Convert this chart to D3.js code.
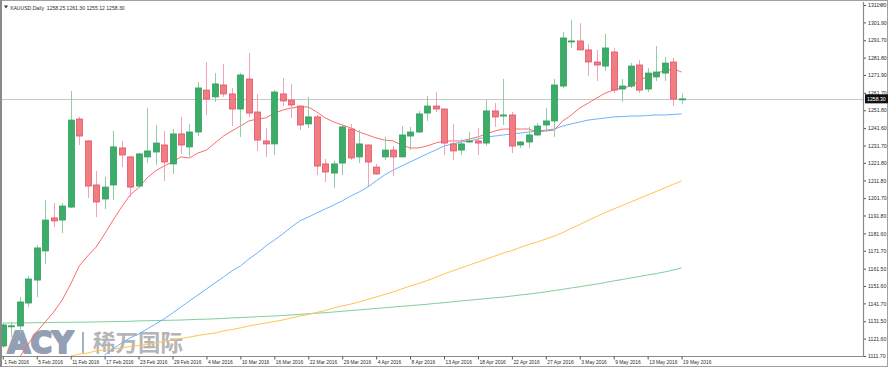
<!DOCTYPE html>
<html><head><meta charset="utf-8">
<script src="https://cdn.jsdelivr.net/npm/d3@7"></script>
<style>html,body{margin:0;padding:0;background:#fff;overflow:hidden}svg{display:block}</style>
</head><body>
<script>
// ---- data ----
const symbolTitle = "XAUUSD,Daily";
const lastOHLC = ["1258.25", "1261.30", "1255.12", "1258.30"];
const bidPrice = 1258.30;

const opens  = [1117.4,1128.8,1128.8,1141.9,1155.0,1171.6,1190.4,1189.2,1196.6,1246.8,1234.3,1209.2,1201.2,1209.2,1230.3,1225.2,1208.6,1225.2,1228.0,1232.0,1221.2,1238.3,1230.9,1239.4,1263.3,1259.4,1266.2,1261.1,1252.5,1269.6,1250.8,1234.3,1232.6,1261.1,1257.6,1254.2,1244.0,1248.0,1221.2,1216.0,1221.7,1241.1,1225.2,1232.0,1219.4,1225.2,1229.1,1225.2,1237.1,1239.4,1250.2,1254.2,1252.5,1232.6,1229.1,1233.7,1234.3,1233.1,1251.4,1248.5,1249.1,1232.0,1233.7,1237.7,1243.4,1245.7,1265.6,1291.0,1291.3,1286.2,1279.3,1277.0,1285.0,1263.9,1265.6,1277.6,1263.9,1270.8,1273.0,1279.3,1258.25];
const highs  = [1130.5,1131.1,1145.3,1157.3,1175.0,1200.6,1198.9,1198.9,1262.8,1248.0,1234.8,1217.2,1213.7,1240.0,1234.3,1225.6,1227.4,1253.1,1243.4,1240.0,1241.1,1248.0,1244.0,1267.9,1279.3,1273.0,1278.2,1264.5,1273.0,1284.4,1261.1,1241.7,1263.3,1270.2,1266.8,1254.5,1259.4,1249.1,1224.0,1222.9,1243.4,1244.0,1240.5,1232.3,1221.2,1236.6,1231.4,1242.8,1242.3,1251.4,1259.9,1262.2,1252.8,1244.0,1235.4,1239.4,1241.7,1257.6,1255.9,1269.6,1250.8,1234.3,1242.3,1244.5,1253.1,1269.6,1296.4,1303.2,1301.5,1289.6,1286.2,1295.3,1287.3,1269.6,1278.7,1280.4,1275.9,1288.4,1282.2,1281.6,1261.30];
const lows   = [1116.3,1122.5,1124.8,1139.6,1145.3,1164.2,1185.2,1181.8,1196.1,1232.0,1201.8,1190.9,1195.5,1200.6,1219.4,1202.3,1207.5,1221.7,1220.6,1211.5,1215.5,1226.9,1225.2,1237.1,1249.1,1256.5,1259.4,1242.8,1236.6,1248.0,1228.6,1225.2,1226.3,1254.2,1247.4,1240.5,1241.7,1214.9,1210.9,1207.5,1214.9,1223.4,1221.7,1208.6,1214.9,1223.4,1214.3,1225.0,1229.1,1238.8,1245.7,1250.8,1226.3,1223.4,1226.3,1233.1,1226.3,1231.4,1242.3,1243.4,1227.4,1230.3,1230.3,1237.1,1239.5,1236.6,1264.5,1287.3,1286.0,1271.3,1268.5,1274.2,1261.6,1256.5,1264.5,1261.6,1262.2,1268.5,1268.5,1254.2,1255.12];
const closes = [1129.4,1128.9,1142.5,1155.6,1173.3,1189.2,1188.7,1197.2,1246.2,1237.1,1208.6,1199.5,1208.0,1230.9,1226.3,1208.0,1226.9,1228.6,1233.1,1222.3,1238.3,1232.0,1239.4,1264.5,1258.2,1266.8,1261.1,1252.5,1271.9,1250.2,1234.8,1232.6,1262.2,1257.1,1254.8,1243.4,1248.0,1220.0,1216.6,1221.2,1242.3,1224.6,1232.6,1222.3,1215.5,1229.1,1225.2,1237.7,1239.4,1249.7,1254.2,1252.5,1233.1,1228.6,1232.6,1234.3,1233.1,1251.4,1248.0,1249.1,1231.4,1233.7,1237.7,1242.8,1245.7,1266.2,1293.0,1291.3,1286.2,1279.3,1277.6,1287.3,1263.3,1265.6,1277.0,1263.3,1273.0,1273.6,1278.7,1258.2,1258.30];

// moving averages (null = not drawn / off-chart)
const maFast = [null,null,1111.1,1118.5,1125.4,1131.1,1136.8,1143.6,1152.7,1163.0,1168.7,1173.8,1181.3,1189.2,1196.6,1203.5,1207.5,1213.2,1217.2,1220.0,1222.3,1225.2,1224.6,1227.4,1229.1,1233.1,1237.1,1240.0,1242.8,1245.7,1246.8,1247.4,1250.2,1251.9,1253.1,1253.7,1253.7,1250.8,1247.4,1245.1,1243.4,1241.7,1239.4,1237.7,1236.0,1234.8,1234.3,1232.0,1230.3,1230.3,1231.4,1233.1,1234.3,1234.3,1234.3,1235.4,1236.6,1238.3,1240.0,1241.1,1241.1,1241.1,1241.1,1239.4,1240.0,1240.5,1245.7,1249.1,1253.1,1255.9,1258.8,1261.6,1263.3,1264.5,1265.6,1268.5,1271.3,1273.0,1274.2,1275.3,1273.6];
const maMid = [null,null,null,null,null,null,null,null,null,null,null,null,1112.3,1115.7,1119.1,1122.0,1124.2,1127.1,1129.9,1132.8,1136.2,1139.6,1143.1,1146.5,1149.9,1153.3,1156.7,1160.2,1163.0,1167.0,1170.4,1174.4,1177.8,1181.3,1185.2,1188.7,1190.9,1193.2,1195.5,1197.8,1200.1,1202.9,1205.2,1208.0,1211.5,1214.9,1217.7,1220.0,1222.3,1224.6,1226.9,1229.1,1231.4,1232.6,1233.7,1234.3,1235.4,1236.6,1237.1,1237.7,1238.3,1238.8,1239.4,1240.0,1240.5,1241.1,1242.8,1244.0,1245.1,1246.2,1246.8,1247.4,1248.0,1248.2,1248.5,1248.5,1248.8,1249.1,1249.1,1249.4,1249.7];
const maSlow = [null,null,null,null,null,null,null,null,1111.7,1112.8,1113.4,1114.6,1115.1,1115.7,1116.3,1117.1,1117.7,1118.3,1119.1,1120.0,1120.8,1121.7,1122.5,1123.4,1124.2,1124.8,1126.0,1126.8,1127.7,1128.8,1129.7,1130.5,1131.4,1132.2,1133.4,1134.5,1135.4,1136.5,1137.6,1139.1,1140.2,1141.3,1142.5,1143.9,1145.3,1146.8,1148.2,1149.9,1151.6,1153.0,1154.7,1156.5,1158.5,1160.2,1161.9,1163.6,1165.3,1167.0,1168.7,1170.4,1171.8,1173.6,1175.3,1176.7,1178.4,1180.1,1182.1,1184.4,1186.7,1189.0,1191.2,1193.5,1195.5,1197.5,1199.5,1201.5,1203.5,1205.5,1207.5,1209.5,1211.5];
const maLong = [1130.5,1130.5,1130.5,1130.6,1130.7,1130.7,1130.8,1130.9,1130.9,1131.0,1131.0,1131.1,1131.2,1131.3,1131.4,1131.5,1131.7,1131.8,1131.9,1132.0,1132.1,1132.2,1132.4,1132.6,1132.7,1132.9,1133.1,1133.4,1133.6,1133.8,1134.1,1134.3,1134.5,1134.8,1135.1,1135.4,1135.8,1136.1,1136.4,1136.8,1137.2,1137.6,1138.0,1138.4,1138.8,1139.2,1139.6,1140.0,1140.4,1140.8,1141.2,1141.7,1142.1,1142.6,1143.1,1143.5,1144.0,1144.4,1144.9,1145.3,1145.9,1146.5,1147.0,1147.6,1148.3,1149.0,1149.7,1150.5,1151.2,1152.0,1152.7,1153.6,1154.5,1155.3,1156.2,1157.0,1157.9,1158.7,1159.6,1160.7,1161.9];

const priceTicks = [1311.80,1301.90,1291.70,1281.80,1271.90,1261.70,1251.80,1241.60,1231.70,1221.80,1211.80,1201.70,1191.80,1181.60,1171.70,1161.50,1151.60,1141.70,1131.50,1121.60,1111.70];
const dateLabels = ["1 Feb 2016","5 Feb 2016","11 Feb 2016","17 Feb 2016","23 Feb 2016","29 Feb 2016","4 Mar 2016","10 Mar 2016","16 Mar 2016","22 Mar 2016","29 Mar 2016","4 Apr 2016","8 Apr 2016","13 Apr 2016","18 Apr 2016","22 Apr 2016","27 Apr 2016","3 May 2016","9 May 2016","13 May 2016","19 May 2016"];
const dateLabelStep = 4; // one label every 4 bars

// ---- layout ----
const W = 888, H = 367;
const plot = {left: 2, right: 863, top: 2, bottom: 356};
const FONT = "'Liberation Sans', Arial, sans-serif";
const txt = "#2a2a2a";
const FS = 4.9;

const svg = d3.select("body").append("svg").attr("width", W).attr("height", H);
svg.append("rect").attr("width", W).attr("height", H).attr("fill", "#fff");

const x = d3.scaleLinear().domain([0, closes.length - 1]).range([2.8, 681.6]);
const y = d3.scaleLinear().domain([1111.70, 1311.80]).range([356, 5]);

svg.append("clipPath").attr("id", "clip").append("rect")
  .attr("x", plot.left).attr("y", plot.top)
  .attr("width", plot.right - plot.left).attr("height", plot.bottom - plot.top);

// watermark
const wm = svg.append("g");
wm.append("text").attr("x", 7.5).attr("y", 353)
  .attr("font-family", "'DejaVu Sans', sans-serif").attr("font-weight", 700)
  .attr("font-size", 30).attr("textLength", 66).attr("lengthAdjust", "spacingAndGlyphs")
  .attr("fill", "#8a97ad").attr("stroke", "#8a97ad").attr("stroke-width", 2.2).attr("stroke-linejoin", "round")
  .attr("opacity", 0.92).text("ACY");
wm.append("rect").attr("x", 82).attr("y", 332).attr("width", 2).attr("height", 21).attr("fill", "#a7b1c1");
wm.append("text").attr("x", 93).attr("y", 351)
  .attr("font-family", "'Noto Sans CJK SC', sans-serif").attr("font-weight", 700)
  .attr("font-size", 22.5).attr("fill", "#b5b5b5").text("稀万国际");

const g = svg.append("g").attr("clip-path", "url(#clip)");

// bid line
g.append("line").attr("x1", plot.left).attr("x2", plot.right)
  .attr("y1", Math.round(y(bidPrice)) + 0.5).attr("y2", Math.round(y(bidPrice)) + 0.5)
  .attr("stroke", "#c8c8c8").attr("stroke-width", 1);

// moving averages
const maLine = d3.line().defined(d => d != null).x((d, i) => x(i)).y(d => y(d));
[[maLong, "#7fcf9c"], [maSlow, "#ffc450"], [maMid, "#6cb2ff"], [maFast, "#ff6b6b"]].forEach(([arr, col]) => {
  g.append("path").attr("d", maLine(arr)).attr("fill", "none").attr("stroke", col).attr("stroke-width", 1);
});

// candles
const idx = d3.range(closes.length);
const up = i => closes[i] >= opens[i];
g.selectAll(".wick").data(idx).join("line")
  .attr("x1", i => Math.round(x(i)) + 0.5).attr("x2", i => Math.round(x(i)) + 0.5)
  .attr("y1", i => y(highs[i])).attr("y2", i => y(lows[i]))
  .attr("stroke", i => up(i) ? "#8fd0a2" : "#f3a3b3").attr("stroke-width", 1);
g.selectAll(".body").data(idx).join("rect")
  .attr("x", i => Math.round(x(i)) - 2.5)
  .attr("width", 6)
  .attr("y", i => Math.min(y(opens[i]), y(closes[i])))
  .attr("height", i => Math.max(1, Math.abs(y(opens[i]) - y(closes[i]))))
  .attr("fill", i => up(i) ? "#3bad68" : "#f07d80")
  .attr("stroke", i => up(i) ? "#33a060" : "#e4506a").attr("stroke-width", 0.8);

// frame
svg.append("rect").attr("x", 0.5).attr("y", 0.5).attr("width", W - 1).attr("height", H - 1)
  .attr("fill", "none").attr("stroke", "#a0a0a0");
svg.append("line").attr("x1", 1).attr("x2", 1).attr("y1", 0).attr("y2", H).attr("stroke", "#8a8a8a").attr("stroke-width", 2);
svg.append("path").attr("d", `M${plot.left},${plot.bottom + 0.5}H${plot.right + 0.5}V${plot.top}`)
  .attr("fill", "none").attr("stroke", "#8a8a8a").attr("stroke-width", 1.2);

// right price axis
const yAxis = d3.axisRight(y).tickValues(priceTicks).tickFormat(d3.format(".2f")).tickSize(2).tickPadding(2);
const ya = svg.append("g").attr("transform", `translate(${plot.right + 1},0)`).call(yAxis);
ya.select(".domain").remove();
ya.selectAll("line").attr("stroke", "#555");
ya.selectAll("text").attr("font-family", FONT).attr("font-size", FS + 0.3).attr("fill", txt);

// bid price box
const by = y(bidPrice);
svg.append("rect").attr("x", plot.right + 2).attr("y", by - 4.5).attr("width", 23).attr("height", 9).attr("fill", "#111");
svg.append("text").attr("x", plot.right + 4).attr("y", by).attr("dy", "0.35em")
  .attr("font-family", FONT).attr("font-size", FS + 0.3).attr("fill", "#fff").text(d3.format(".2f")(bidPrice));

// bottom time axis
const tickIdx = dateLabels.map((d, k) => k * dateLabelStep);
const xAxis = d3.axisBottom(x).tickValues(tickIdx).tickFormat((d, k) => dateLabels[k]).tickSize(3).tickPadding(1);
const xa = svg.append("g").attr("transform", `translate(0,${plot.bottom + 0.5})`).call(xAxis);
xa.select(".domain").remove();
xa.selectAll("line").attr("stroke", "#555");
xa.selectAll("text").attr("text-anchor", "start").attr("dx", 1).attr("font-family", FONT).attr("font-size", FS).attr("fill", txt);

// title
svg.append("path").attr("d", "M4,5.5L8,5.5L6,8.5Z").attr("fill", "#333");
svg.append("text").attr("x", 10).attr("y", 9.5).attr("font-family", FONT).attr("font-size", FS + 0.2).attr("fill", txt)
  .attr("xml:space", "preserve").text(symbolTitle + "  " + lastOHLC.join(" "));

// top-right chart-shift marker
svg.append("path").attr("d", "M878,3.5L885,3.5L881.5,7.5Z").attr("fill", "#9a9a9a");
</script>
</body></html>
